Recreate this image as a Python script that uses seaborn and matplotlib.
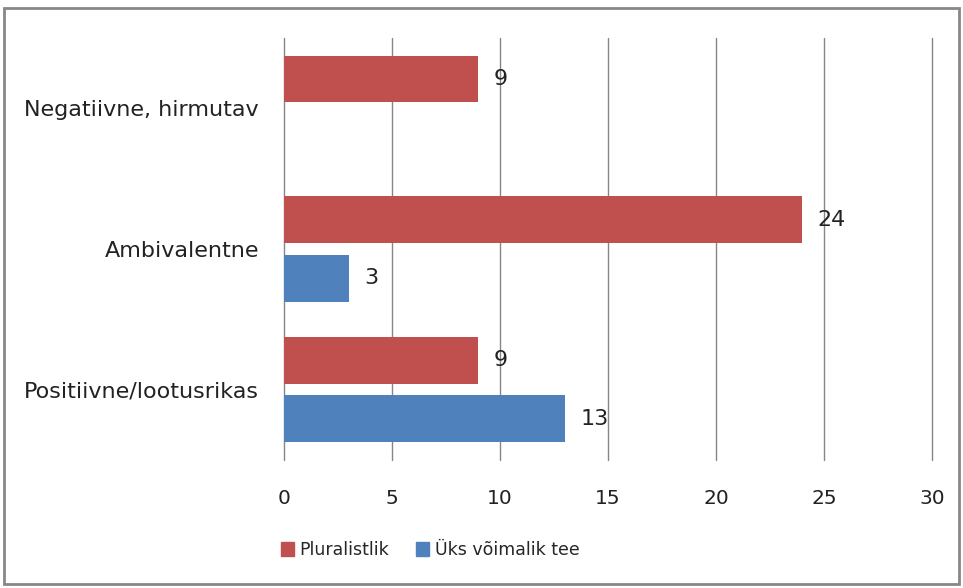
import matplotlib
matplotlib.use("Agg")
import numpy as np
import pandas as pd
import seaborn as sns
import matplotlib.pyplot as plt
from matplotlib.patches import Rectangle

# data
categories = ["Negatiivne, hirmutav", "Ambivalentne", "Positiivne/lootusrikas"]
pluralistlik = [9, 24, 9]
yks_voimalik = [np.nan, 3, 13]
series = ["Pluralistlik", "Üks võimalik tee"]
xticks = [0, 5, 10, 15, 20, 25, 30]

df = pd.DataFrame({
    "category": categories * 2,
    "value": pluralistlik + yks_voimalik,
    "series": [series[0]] * 3 + [series[1]] * 3,
})

sns.set_style("white")
plt.rcParams["font.family"] = ["DejaVu Sans"]

palette = {series[0]: "#C0504D", series[1]: "#4F81BD"}

fig = plt.figure(figsize=(9.63, 5.88), dpi=100)
ax = fig.add_axes([0.2949, 0.2177, 0.6729, 0.7177])

sns.barplot(data=df, y="category", x="value", hue="series", orient="h",
            palette=palette, width=0.83, gap=0.2, saturation=1, linewidth=0,
            order=categories, hue_order=series, ax=ax, legend=False)

# value labels
for cont in ax.containers:
    ax.bar_label(cont, fmt="%g", padding=11, fontsize=16, color="#222222")

ax.set_xlim(0, 30)
ax.set_xticks(xticks)
ax.xaxis.grid(True, color="#868686", linewidth=1)
for gl in ax.get_xgridlines():
    gl.set_clip_on(False)
ax.set_axisbelow(True)
for s in ax.spines.values():
    s.set_visible(False)
ax.set_xlabel("")
ax.set_ylabel("")
ax.tick_params(axis="x", labelsize=14.5, pad=21, length=0, colors="#222222")
ax.tick_params(axis="y", labelsize=16, pad=18, length=0, colors="#222222")

# legend
handles = [Rectangle((0, 0), 1, 1, color=palette[s]) for s in series]
fig.legend(handles, series, loc="center", bbox_to_anchor=(430 / 963, 1 - 550 / 588),
           ncol=2, frameon=False, fontsize=12.5, handlelength=0.75, handleheight=0.9,
           handletextpad=0.3, columnspacing=1.6)

# outer frame
fig.patches.append(Rectangle((0.004, 0.006), 0.992, 0.981, transform=fig.transFigure,
                             fill=False, edgecolor="#888888", linewidth=2))

fig.savefig("out.png", dpi=100)
